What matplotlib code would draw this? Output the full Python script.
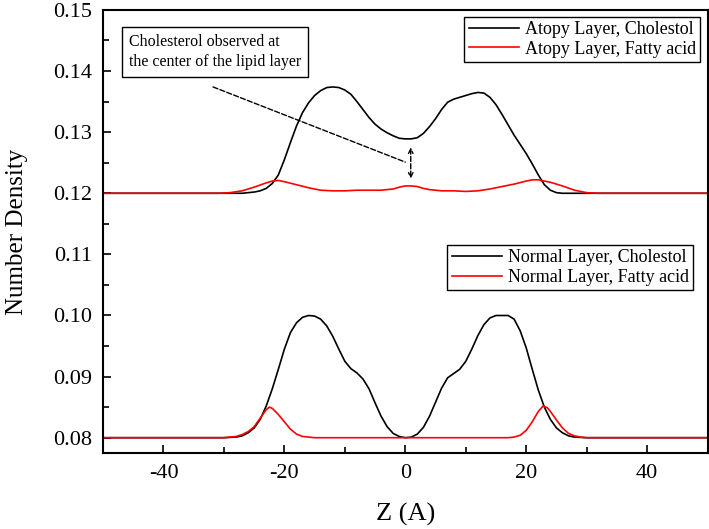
import matplotlib
matplotlib.use('Agg')
import matplotlib.pyplot as plt
from matplotlib.ticker import MultipleLocator

plt.rcParams['font.family'] = ['Liberation Serif', 'DejaVu Serif']

# Atopy layer
atopy_chol_z = [-50, -30, -27, -25, -24, -23, -22, -21, -20, -19, -18, -17, -16, -15, -14, -13,
                -12, -11, -10, -9, -8, -7, -6, -5, -4, -3, -2, -1, 0, 1, 2, 3, 4, 5, 6, 7, 8,
                9, 10, 11, 12, 13, 14, 15, 16, 17, 18, 19, 20, 21, 22, 23, 24, 25, 26, 30, 50]
atopy_chol = [0.1200, 0.1200, 0.1200, 0.1202, 0.1204, 0.1208, 0.1216, 0.1230, 0.1255, 0.1283,
              0.1310, 0.1332, 0.1348, 0.1360, 0.1368, 0.1373, 0.1374, 0.1373, 0.1369, 0.1362,
              0.1350, 0.1337, 0.1324, 0.1313, 0.1305, 0.1299, 0.1294, 0.1290, 0.1289, 0.1289,
              0.1291, 0.1298, 0.1309, 0.1322, 0.1337, 0.1349, 0.1354, 0.1357, 0.1360, 0.1363,
              0.1365, 0.1364, 0.1357, 0.1345, 0.1329, 0.1312, 0.1295, 0.1280, 0.1265, 0.1248,
              0.1230, 0.1214, 0.1205, 0.1201, 0.1200, 0.1200, 0.1200]

atopy_fa_z = [-50, -31, -29, -27, -25, -23, -22, -21, -20, -18, -16, -14, -12, -10, -8, -6, -4,
              -2, -1, 0, 1, 2, 3, 4, 6, 8, 10, 12, 14, 16, 18, 20, 21, 22, 23, 24, 26, 28, 30,
              32, 50]
atopy_fa = [0.1200, 0.1200, 0.1201, 0.1204, 0.1210, 0.1217, 0.1220, 0.1221, 0.1219, 0.1214,
            0.1209, 0.1205, 0.1204, 0.1204, 0.1205, 0.1205, 0.1205, 0.1207, 0.1210, 0.1212,
            0.1212, 0.1211, 0.1208, 0.1206, 0.1204, 0.1204, 0.1203, 0.1204, 0.1207, 0.1211,
            0.1215, 0.1220, 0.1222, 0.1222, 0.1220, 0.1218, 0.1212, 0.1205, 0.1201, 0.1200,
            0.1200]

# Normal layer
normal_chol_z = [-50, -30, -28, -27, -26, -25, -24, -23, -22, -21, -20, -19, -18, -17, -16,
                 -15, -14, -13, -12, -11, -10, -9, -8, -7, -6, -5, -4, -3, -2, -1, 0, 1, 2,
                 3, 4, 5, 6, 7, 8, 9, 10, 11, 12, 13, 14, 15, 16, 17, 18, 19, 20, 21, 22, 23,
                 24, 25, 26, 27, 28, 30, 50]
normal_chol = [0.0800, 0.0800, 0.0801, 0.0803, 0.0808, 0.0816, 0.0830, 0.0852, 0.0880, 0.0912,
               0.0945, 0.0972, 0.0988, 0.0997, 0.1000, 0.0999, 0.0994, 0.0983, 0.0966, 0.0945,
               0.0925, 0.0913, 0.0906, 0.0896, 0.0880, 0.0857, 0.0835, 0.0818, 0.0807, 0.0802,
               0.0800, 0.0801, 0.0806, 0.0817, 0.0835, 0.0858, 0.0881, 0.0898, 0.0905, 0.0912,
               0.0925, 0.0945, 0.0967, 0.0985, 0.0996, 0.1000, 0.1000, 0.1000, 0.0994, 0.0975,
               0.0947, 0.0912, 0.0878, 0.0850, 0.0830, 0.0816, 0.0808, 0.0803, 0.0801, 0.0800,
               0.0800]

normal_fa_z = [-50, -30, -29, -28, -27, -26, -25, -24, -23, -22.5, -22, -21, -20, -19, -18,
               -17, -16, -15, 17, 18, 19, 20, 21, 22, 22.8, 23.5, 24, 25, 26, 27, 28, 29, 30, 50]
normal_fa = [0.0800, 0.0800, 0.0801, 0.0802, 0.0805, 0.0810, 0.0818, 0.0832, 0.0846, 0.0850,
             0.0848, 0.0838, 0.0826, 0.0814, 0.0806, 0.0802, 0.0801, 0.0800, 0.0800, 0.0801,
             0.0804, 0.0812, 0.0826, 0.0843, 0.0852, 0.0849, 0.0843, 0.0829, 0.0816, 0.0807,
             0.0803, 0.0801, 0.0800, 0.0800]

fig = plt.figure(figsize=(7.09, 5.29), dpi=100)
ax = fig.add_axes([0.1453, 0.1437, 0.8527, 0.8375])

l1, = ax.plot(atopy_chol_z, atopy_chol, color='black', lw=1.2, label='Atopy Layer, Cholestol')
l2, = ax.plot(atopy_fa_z, atopy_fa, color='red', lw=1.2, label='Atopy Layer, Fatty acid')
l3, = ax.plot(normal_chol_z, normal_chol, color='black', lw=1.2, label='Normal Layer, Cholestol')
l4, = ax.plot(normal_fa_z, normal_fa, color='red', lw=1.2, label='Normal Layer, Fatty acid')

ax.set_xlim(-50, 50)
ax.set_ylim(0.0775, 0.15)
ax.xaxis.set_minor_locator(MultipleLocator(10))
ax.yaxis.set_major_locator(MultipleLocator(0.01))
ax.yaxis.set_minor_locator(MultipleLocator(0.005))
ax.set_xticks([-40, -20, 0, 20, 40])
ax.set_xticklabels(['-40', '-20', '0', '20', '40'])
ax.yaxis.set_major_formatter(plt.FormatStrFormatter('%.2f'))
ax.tick_params(which='both', direction='in', labelsize=16, width=1.2)
ax.tick_params(which='major', length=6, pad=8)
ax.tick_params(which='minor', length=4)
for s in ax.spines.values():
    s.set_linewidth(1.5)

ax.set_xlabel('Z (A)', fontsize=19, labelpad=14)
ax.set_ylabel('Number Density', fontsize=18, labelpad=18)

leg1 = ax.legend(handles=[l1, l2], loc='upper right', bbox_to_anchor=(0.988, 0.985),
                 fontsize=13, fancybox=False, edgecolor='black', framealpha=1,
                 borderpad=0.25, handlelength=2.8, handletextpad=0.3, labelspacing=0.15,
                 borderaxespad=0)
leg1.get_frame().set_linewidth(1.0)
ax.add_artist(leg1)
leg2 = ax.legend(handles=[l3, l4], loc='upper right', bbox_to_anchor=(0.976, 0.47),
                 fontsize=13, fancybox=False, edgecolor='black', framealpha=1,
                 borderpad=0.25, handlelength=2.8, handletextpad=0.3, labelspacing=0.15,
                 borderaxespad=0)
leg2.get_frame().set_linewidth(1.0)

ax.text(-45.7, 0.1431, 'Cholesterol observed at\nthe center of the lipid layer',
        fontsize=11.5, va='center', ha='left', linespacing=1.3,
        bbox=dict(boxstyle='square,pad=0.45', fc='white', ec='black', lw=1.0))
ax.annotate('', xy=(0.0, 0.1251), xytext=(-31.8, 0.1374),
            arrowprops=dict(arrowstyle='-', ls='--', lw=1.0, color='black',
                            shrinkA=0, shrinkB=0))
ax.annotate('', xy=(0.9, 0.1224), xytext=(0.9, 0.1275),
            arrowprops=dict(arrowstyle='<->', ls='--', lw=1.0, color='black',
                            shrinkA=0, shrinkB=0, mutation_scale=8))

fig.savefig('out.png', dpi=100)
